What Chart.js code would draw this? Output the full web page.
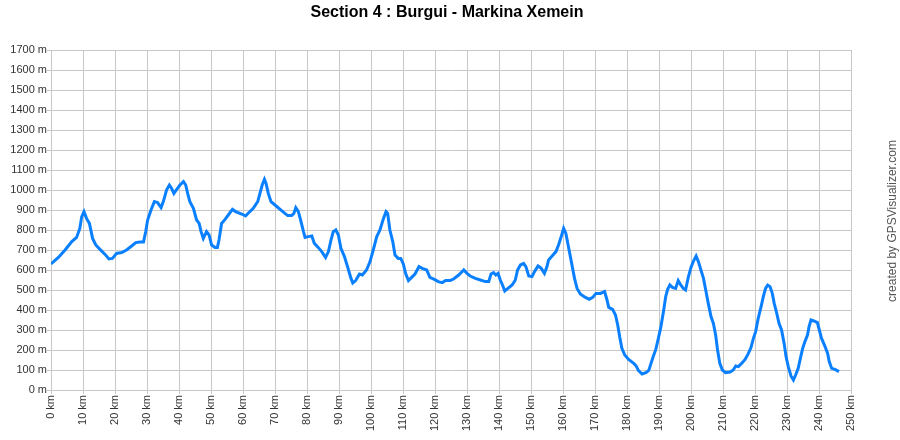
<!DOCTYPE html>
<html>
<head>
<meta charset="utf-8">
<title>Section 4 : Burgui - Markina Xemein</title>
<script src="https://cdn.jsdelivr.net/npm/chart.js@4.4.1/dist/chart.umd.min.js"></script>
<style>
    html, body { margin: 0; padding: 0; background: #ffffff; }
    #wrap { width: 900px; height: 440px; }
</style>
</head>
<body>
<div id="wrap"><canvas id="profileChart" width="900" height="440"></canvas></div>
<script>
// --- DATA ---
const chartTitle = 'Section 4 : Burgui - Markina Xemein';
const creditText = 'created by GPSVisualizer.com';

const distanceKm = [
    0, 2.3, 4.4, 6.5, 8, 9, 9.6, 10.3, 11.1, 12, 13, 14, 15.3, 16.9, 18.1, 19.2,
    20.5, 22.1, 23.6, 25.2, 26.5, 27.8, 28.9, 29.6, 30.2, 31.25, 32.3, 33.3, 34.4, 35.1,
    36.1, 37, 37.7, 38.4, 39.3, 40.3, 41.4, 42.1, 42.7, 43.4, 44.5, 45.5, 46.3, 46.9,
    47.6, 48.6, 49.4, 50.2, 51.25, 52, 52.5, 53.3, 54.4, 55.4, 56.7, 57.7, 59.6, 60.8,
    61.7, 63.2, 64.6, 65.3, 66, 66.7, 67.2, 67.9, 68.75, 70, 71.6, 73.1, 74, 75.2,
    75.9, 76.5, 77.3, 78, 78.9, 79.4, 80.4, 81.5, 82.3, 83.5, 84.6, 85.8, 86.7, 87.5,
    88.2, 89, 89.8, 90.6, 91.7, 92.7, 93.75, 94.3, 95.2, 96.4, 97.3, 98.6, 99.7, 100.7,
    101.8, 102.8, 103.9, 104.7, 105.2, 105.9, 106.8, 107.5, 108.5, 109.3, 110.1, 110.8,
    111.7, 112.7, 113.75, 115, 116, 117.4, 118.4, 119.8, 121, 122.3, 123.3, 124.7,
    125.8, 127.4, 129, 130, 131, 132.6, 134.2, 135.7, 136.8, 137.5, 138.3, 139, 139.7,
    140.4, 141.1, 141.8, 142.8, 144.1, 145.1, 145.8, 146.7, 147.7, 148.4, 149.3, 150.3,
    151.1, 152.2, 153.2, 154.2, 155, 155.5, 156.6, 157.8, 158.6, 159.5, 160.2, 160.9,
    161.6, 162.3, 163, 163.6, 164.4, 165.4, 167, 168.2, 169.3, 170.3, 171.7, 173,
    173.75, 174.3, 175.5, 176.4, 177.1, 177.7, 178.4, 179.3, 180.5, 182.1, 182.8, 183.6,
    184.7, 185.9, 186.8, 187.5, 188.2, 189, 189.8, 190.6, 191.4, 192.1, 192.7, 193.4,
    194.2, 195.2, 196, 196.8, 197.6, 198.3, 199.2, 200, 200.7, 201.6, 202.3, 203.1,
    203.9, 204.6, 205.4, 206.25, 207, 207.7, 208.3, 209, 209.8, 210.8, 212.2, 213.2,
    214, 214.8, 215.8, 216.9, 217.9, 218.75, 219.5, 220.2, 221, 221.9, 222.6, 223.3,
    223.96, 224.7, 225.4, 226, 226.8, 227.5, 228.3, 229.1, 229.7, 230.4, 231.25, 232,
    232.7, 233.5, 234.3, 234.9, 235.6, 236.4, 236.9, 237.5, 238.4, 239.5, 240.1, 240.8,
    241.9, 242.7, 243.2, 243.96, 245, 246.25
];

const elevationM = [
    630, 663, 700, 742, 763, 808, 867, 892, 858, 833, 758, 725, 703, 678, 655, 658,
    683, 687, 700, 720, 737, 740, 740, 792, 850, 900, 942, 937, 912, 942,
    1000, 1025, 1008, 983, 1003, 1025, 1042, 1025, 983, 942, 908, 850, 833, 792,
    758, 792, 775, 725, 713, 713, 750, 833, 853, 875, 903, 892, 880, 870,
    885, 908, 942, 983, 1025, 1053, 1033, 983, 942, 925, 903, 883, 872, 872,
    883, 912, 892, 850, 792, 763, 767, 770, 733, 713, 692, 663, 692, 750,
    792, 800, 775, 708, 667, 615, 558, 535, 547, 580, 575, 600, 642, 700,
    767, 800, 858, 892, 883, 800, 742, 675, 658, 658, 630, 583,
    547, 563, 580, 617, 608, 600, 563, 553, 542, 537, 547, 547,
    555, 575, 600, 583, 570, 558, 550, 542, 542, 580, 587, 575, 583,
    550, 525, 495, 508, 525, 550, 600, 625, 633, 617, 570, 567,
    592, 620, 608, 583, 617, 650, 670, 692, 725, 770, 808, 783,
    725, 667, 608, 558, 508, 480, 463, 453, 463, 483, 483, 492,
    450, 413, 403, 375, 325, 267, 208, 175, 153, 133, 122, 97,
    80, 87, 98, 133, 167, 203, 258, 317, 392, 467, 503, 525,
    513, 508, 547, 525, 508, 500, 567, 613, 642, 670, 642, 600,
    558, 500, 433, 367, 333, 275, 200, 133, 100, 87, 90, 100,
    120, 117, 133, 153, 182, 212, 258, 292, 358, 417, 467, 508,
    525, 517, 483, 433, 383, 333, 300, 233, 167, 117, 70, 50,
    75, 108, 167, 208, 242, 275, 317, 350, 345, 337, 300, 258,
    217, 183, 142, 108, 103, 92
];

const xTickStep = 10;   // km
const xMax = 250;
const yTickStep = 100;  // m
const yMax = 1700;

// --- CHART ---
const fontFamily = '"Liberation Sans", Arial, Helvetica, sans-serif';
const gridColor = '#c8c8c8';

const textPlugin = {
    id: 'textPlugin',
    afterDraw(chart) {
        const ctx = chart.ctx;
        ctx.save();
        ctx.fillStyle = '#000000';
        ctx.font = 'bold 16px ' + fontFamily;
        ctx.textAlign = 'center';
        ctx.textBaseline = 'middle';
        ctx.fillText(chartTitle, 447, 13);

        ctx.translate(893, 221);
        ctx.rotate(-Math.PI / 2);
        ctx.fillStyle = '#555555';
        ctx.font = '12px ' + fontFamily;
        ctx.fillText(creditText, 0, 0);
        ctx.restore();
    }
};

const points = distanceKm.map((d, i) => ({ x: d, y: elevationM[i] }));

new Chart(document.getElementById('profileChart').getContext('2d'), {
    type: 'line',
    data: {
        datasets: [{
            label: 'Elevation',
            data: points,
            borderColor: '#0a80ff',
            borderWidth: 3,
            pointRadius: 0,
            tension: 0,
            fill: false
        }]
    },
    options: {
        responsive: false,
        animation: false,
        layout: { padding: { top: 50, right: 49, left: 0, bottom: 0 } },
        plugins: {
            legend: { display: false },
            title: { display: false },
            tooltip: { enabled: false }
        },
        scales: {
            x: {
                type: 'linear',
                min: 0,
                max: xMax,
                afterFit: scale => { scale.height = 50; },
                ticks: {
                    stepSize: xTickStep,
                    autoSkip: false,
                    minRotation: 90,
                    maxRotation: 90,
                    padding: 1,
                    color: '#333333',
                    font: { family: fontFamily, size: 11 },
                    callback: v => v + ' km'
                },
                grid: { color: gridColor, tickLength: 4 },
                border: { color: gridColor }
            },
            y: {
                min: 0,
                max: yMax,
                afterFit: scale => { scale.width = 51; },
                ticks: {
                    stepSize: yTickStep,
                    padding: 0,
                    color: '#333333',
                    font: { family: fontFamily, size: 11 },
                    callback: v => v + ' m'
                },
                grid: { color: gridColor, tickLength: 4 },
                border: { color: gridColor }
            }
        }
    },
    plugins: [textPlugin]
});
</script>
</body>
</html>
